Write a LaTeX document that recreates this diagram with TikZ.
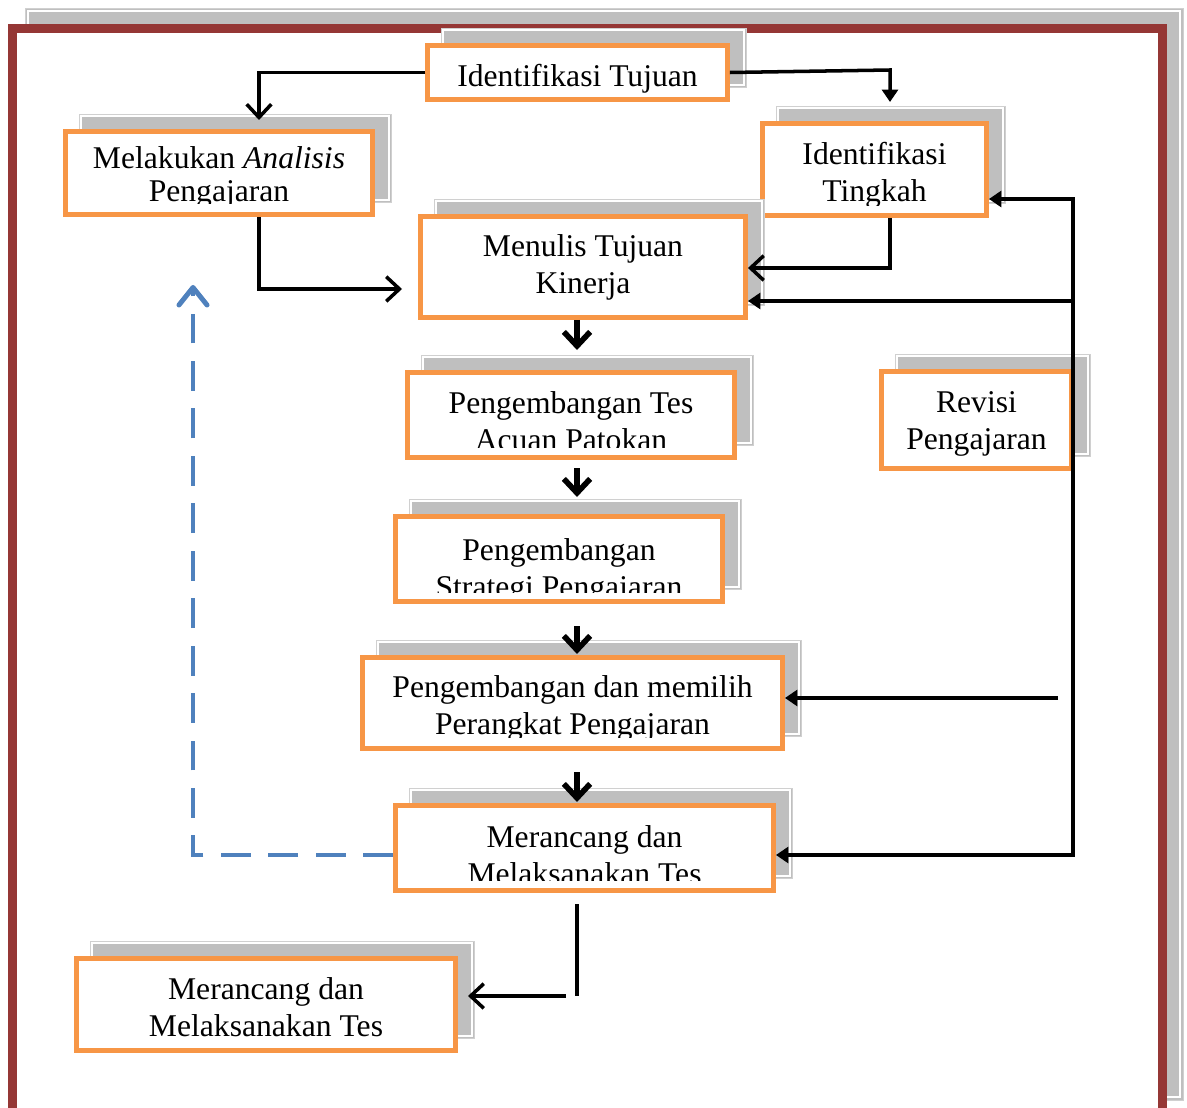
\documentclass[tikz,border=0pt]{standalone}
\usepackage{fontspec}
\setmainfont{Liberation Serif}
\usetikzlibrary{arrows.meta,calc}
\definecolor{obord}{HTML}{F79646}
\definecolor{shad}{HTML}{BFBFBF}
\definecolor{shadedge}{HTML}{D0D0D0}
\definecolor{framered}{HTML}{953735}
\definecolor{bluel}{HTML}{4F81BD}
\tikzset{
  obox/.style={draw=obord, fill=white, line width=2.8pt, inner sep=0pt},
  lbl/.style={font=\fontsize{18}{21}\selectfont, inner sep=0pt, anchor=base},
  conn/.style={line width=2pt, black},
  vtip/.tip={Straight Barb[length=7.5pt,width=14pt]},
  ftip/.tip={Triangle[length=7pt,width=9pt]},
  dtip/.tip={Straight Barb[length=8pt,width=15pt]},
  btip/.tip={Straight Barb[length=10pt,width=16pt,round]},
  downarr/.style={line width=3.2pt, -dtip},
  bluedash/.style={draw=bluel, line width=2.8pt, dash pattern=on 17pt off 10pt, -btip},
}
\newcommand\mkbox[5]{%
  \fill[shad] ({#2+16},{#3-15}) rectangle ({#4+16},{#5-15});
  \draw[shadedge, line width=0.5pt] ({#2+16},{#3-15}) rectangle ({#4+16},{#5-15});
  \draw[white, line width=0.6pt] ({#2+18},{#3-13}) rectangle ({#4+14},{#5-17});
  \node[obox, minimum width={(#4-#2-5)*0.02cm}, minimum height={(#5-#3-5)*0.02cm}] (#1) at ({(#2+#4)/2},{(#3+#5)/2}) {};
}
\begin{document}
\begin{tikzpicture}[x=0.02cm,y=-0.02cm]
\clip (0,0) rectangle (1187,1108);
\fill[white] (0,0) rectangle (1187,1108);
% outer frame
\fill[shad] (25,8) rectangle (1183,1100);
\draw[shadedge, line width=0.5pt] (25,8) rectangle (1183,1100);
\draw[white, line width=0.6pt] (28,11) rectangle (1180,1097);
\fill[white] (12.5,28.5) rectangle (1162.5,1130);
\draw[framered, line width=5.1pt] (12.5,1140) -- (12.5,28.5) -- (1162.5,28.5) -- (1162.5,1140);

% boxes
\mkbox{b1}{425}{43}{730}{102}
\mkbox{b2}{63}{129}{375}{217}
\mkbox{b3}{760}{121}{989}{218}
\mkbox{b4}{418}{214}{748}{320}
\mkbox{b5}{405}{370}{737}{460}
\mkbox{b6}{393}{514}{725}{604}
\mkbox{b7}{360}{655}{785}{751}
\mkbox{b8}{393}{803}{776}{893}
\mkbox{b9}{74}{956}{458}{1053}
\mkbox{b10}{879}{369}{1074}{471}

% labels
\node[lbl] (t1) at (577.5,87) {Identifikasi Tujuan};
\node[lbl] (t2a) at (219,169) {Melakukan \textit{Analisis}};
\begin{scope}\clip (63,129) rectangle (375,204);
\node[lbl] (t2b) at (219,202) {Pengajaran};
\end{scope}
\node[lbl] (t3a) at (874.5,165) {Identifikasi};
\begin{scope}\clip (760,121) rectangle (989,206);
\node[lbl] (t3b) at (874.5,202) {Tingkah};
\end{scope}
\node[lbl] (t4a) at (583,257) {Menulis Tujuan};
\node[lbl] (t4b) at (583,294) {Kinerja};
\node[lbl] (t5a) at (571,413) {Pengembangan Tes};
\begin{scope}\clip (405,370) rectangle (737,447);
\node[lbl] (t5b) at (571,450) {Acuan Patokan};
\end{scope}
\node[lbl] (t6a) at (559,560) {Pengembangan};
\begin{scope}\clip (393,514) rectangle (725,592);
\node[lbl] (t6b) at (559,597) {Strategi Pengajaran};
\end{scope}
\node[lbl] (t7a) at (572.5,697) {Pengembangan dan memilih};
\begin{scope}\clip (360,655) rectangle (785,737);
\node[lbl] (t7b) at (572.5,734) {Perangkat Pengajaran};
\end{scope}
\node[lbl] (t8a) at (584.5,847) {Merancang dan};
\begin{scope}\clip (393,803) rectangle (776,880);
\node[lbl] (t8b) at (584.5,884) {Melaksanakan Tes};
\end{scope}
\node[lbl] (t9a) at (266,999) {Merancang dan};
\node[lbl] (t9b) at (266,1036) {Melaksanakan Tes};
\node[lbl] (t10a) at (976.5,412) {Revisi};
\node[lbl] (t10b) at (976.5,449) {Pengajaran};

% connectors
\coordinate (p1) at (259,120);
\draw[conn,-vtip] (b1.west) -| (p1);
\coordinate (p2) at (890,70);
\coordinate (p3) at (890,102);
\draw[conn,-ftip] (b1.east) -- (p2) -- (p3);
\coordinate (p4) at (259,289);
\coordinate (p5) at (402,289);
\draw[conn,-vtip] (b2.south -| p4) -- (p4) -- (p5);
\coordinate (p6) at (890,268);
\draw[conn,-vtip] (b3.south -| p6) -- (p6) -- (p6 -| b4.east);
\coordinate (p7) at (1073,199);
\coordinate (p8) at (1073,855);
\coordinate (p9) at (1073,301);
\draw[conn,ftip-ftip] (p7 -| b3.east) -- (p7) -- (p8) -- (p8 -| b8.east);
\draw[conn,-ftip] (p9) -- (p9 -| b4.east);
\coordinate (p10) at (1058,698);
\draw[conn,-ftip] (p10) -- (p10 -| b7.east);

% down arrows
\coordinate (q1) at (577,350);
\draw[downarr] (b4.south -| q1) -- (q1);
\coordinate (q2a) at (577,468);
\coordinate (q2) at (577,497);
\draw[downarr] (q2a) -- (q2);
\coordinate (q3a) at (577,626);
\coordinate (q3) at (577,654);
\draw[downarr] (q3a) -- (q3);
\coordinate (q4a) at (577,772);
\coordinate (q4) at (577,802);
\draw[downarr] (q4a) -- (q4);

% bottom
\coordinate (r1) at (577,904);
\coordinate (r2) at (577,996);
\coordinate (r3) at (566,996);
\coordinate (r4) at (468,996);
\draw[conn] (r1) -- (r2);
\draw[conn,-vtip] (r3) -- (r4);

% blue dashed feedback
\coordinate (s1) at (193,855);
\coordinate (s2) at (193,285);
\draw[bluedash] (b8.west |- s1) -- (s1) -- (s2);
\end{tikzpicture}
\end{document}
